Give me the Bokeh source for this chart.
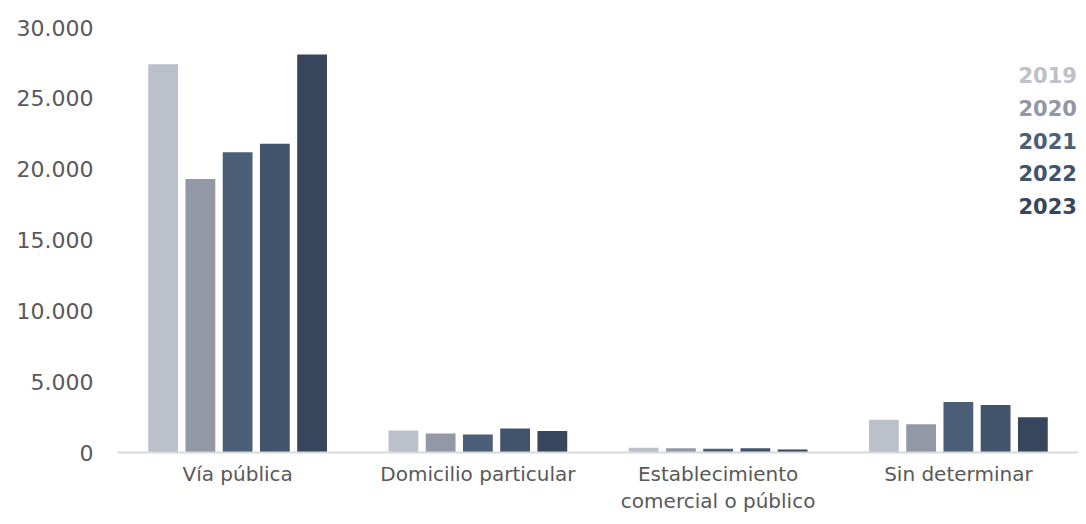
from bokeh.plotting import figure
from bokeh.models import Label, FixedTicker, CustomJSTickFormatter, ColumnDataSource
from bokeh.transform import dodge
from bokeh.embed import file_html
from bokeh.resources import INLINE

categories = ["Vía pública", "Domicilio particular", "Establecimiento\ncomercial o público", "Sin determinar"]
years = ["2019", "2020", "2021", "2022", "2023"]
v2019 = [27400, 1550, 330, 2320]
v2020 = [19300, 1340, 300, 1990]
v2021 = [21200, 1270, 260, 3570]
v2022 = [21800, 1690, 300, 3360]
v2023 = [28100, 1520, 220, 2490]
y_ticks = [0, 5000, 10000, 15000, 20000, 25000, 30000]

colors = ["#bcc0c8", "#9298a5", "#4b5f78", "#42546c", "#37465c"]
series = [v2019, v2020, v2021, v2022, v2023]

FONT = "DejaVu Sans"
GREY = "#595959"

src = ColumnDataSource(dict(cat=categories, **{y: s for y, s in zip(years, series)}))

p = figure(x_range=categories, y_range=(0, 30000), width=1078, height=516,
           output_backend="svg", toolbar_location=None,
           min_border_left=117, min_border_right=0, min_border_top=27, min_border_bottom=63)
p.outline_line_color = None
p.background_fill_color = "white"
p.border_fill_color = "white"
p.grid.grid_line_color = None
p.x_range.range_padding = 0

offsets = [-0.31, -0.155, 0.0, 0.155, 0.31]
for y, c, off in zip(years, colors, offsets):
    p.vbar(x=dodge("cat", off, range=p.x_range), top=y, width=0.124, source=src,
           fill_color=c, line_color=None)

p.xaxis.axis_line_color = "#d9d9d9"
p.xaxis.axis_line_width = 2
p.xaxis.major_tick_line_color = None
p.xaxis.minor_tick_line_color = None
p.xaxis.major_tick_out = 0
p.xaxis.major_tick_in = 0
p.xaxis.major_label_text_font = FONT
p.xaxis.major_label_text_font_size = "20px"
p.xaxis.major_label_text_color = GREY
p.xaxis.major_label_text_line_height = 1.15
p.xaxis.major_label_standoff = 9

p.yaxis.axis_line_color = None
p.yaxis.major_tick_line_color = None
p.yaxis.minor_tick_line_color = None
p.yaxis.major_tick_out = 0
p.yaxis.ticker = FixedTicker(ticks=y_ticks)
p.yaxis.formatter = CustomJSTickFormatter(code="return tick.toLocaleString('de-DE');")
p.yaxis.major_label_text_font = FONT
p.yaxis.major_label_text_font_size = "22px"
p.yaxis.major_label_text_color = GREY
p.yaxis.major_label_standoff = 24

# legend: coloured year texts
for i, (y, c) in enumerate(zip(years, colors)):
    p.add_layout(Label(x=3.75, y=26620 - i * 2300, text=y, text_color=c, text_font=FONT,
                       text_font_size="21px", text_font_style="bold", text_baseline="middle"))

open("out.html", "w").write(file_html(p, INLINE))
